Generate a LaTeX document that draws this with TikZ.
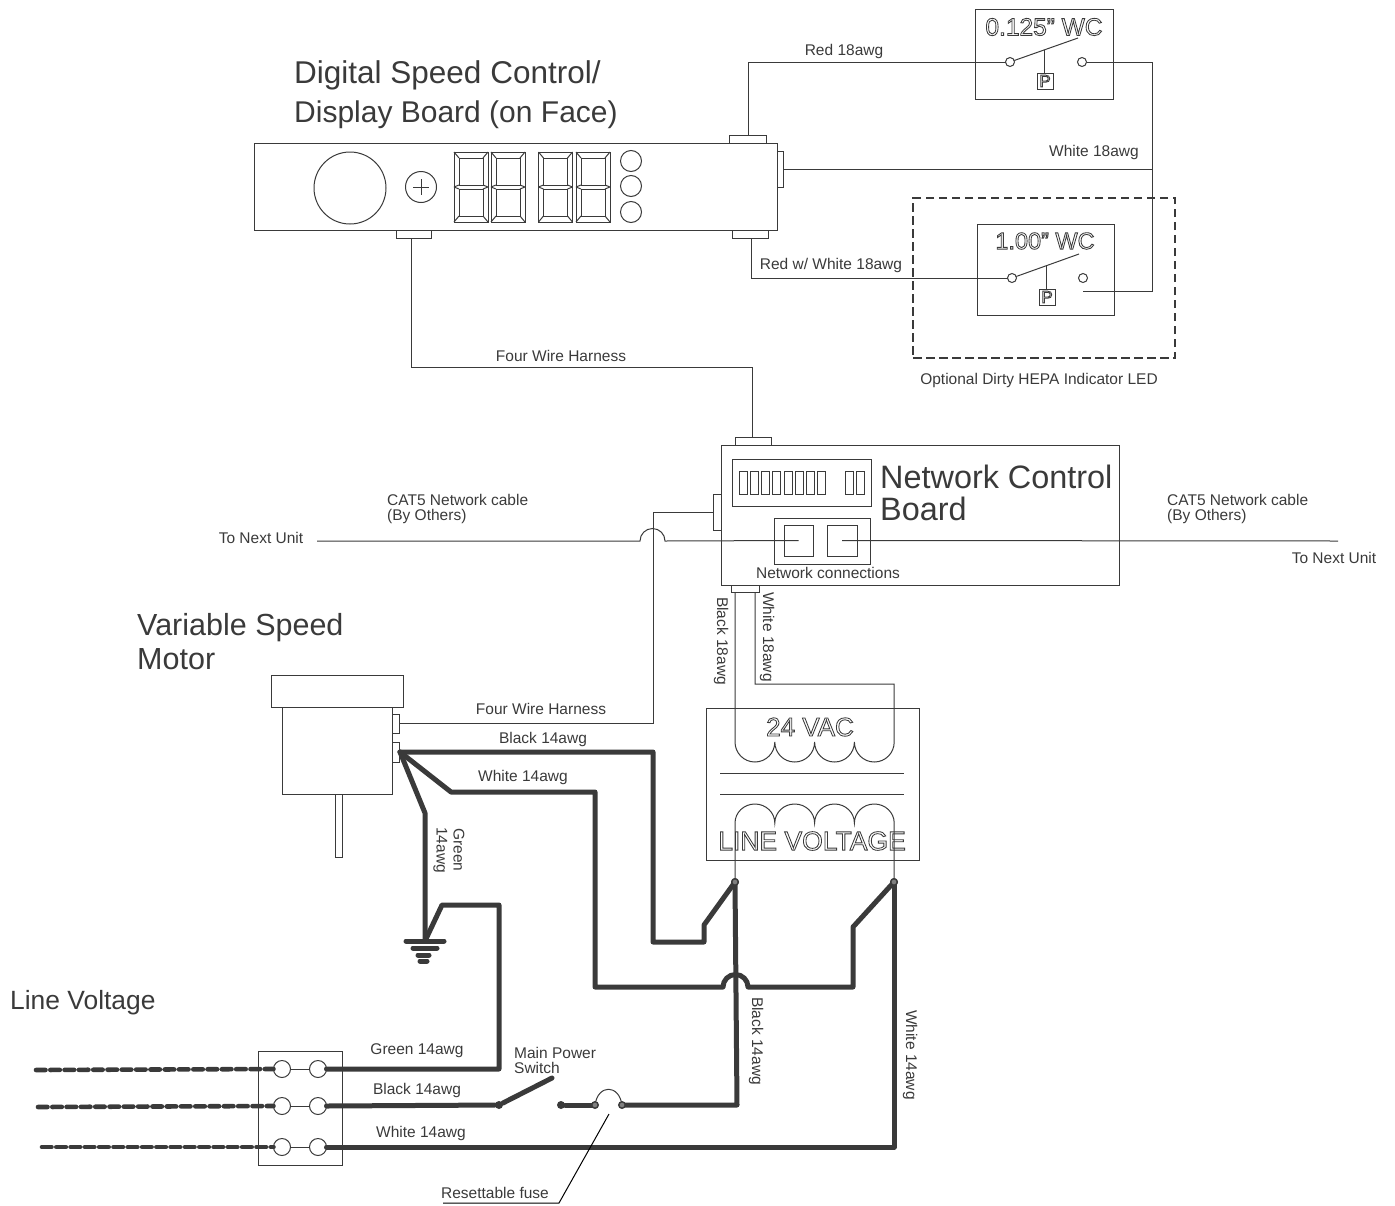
\documentclass[tikz,border=0pt]{standalone}
\usepackage{fontspec}
\setmainfont{Liberation Sans}
\usepackage{tikz}
\usetikzlibrary{ shapes.geometric, % For the knob
                 positioning,
               }
\definecolor{ink}{RGB}{58,58,58}
\newcommand{\outlined}[1]{\special{pdf:code q 0.23 G 0.85 w 1 Tr}#1\special{pdf:code Q}}
\tikzstyle{wire} = [draw=ink, line width=1pt]
\tikzstyle{powerwire} = [draw=ink, line width=5pt, line join=round, line cap=round]
\tikzstyle{feedwire} = [powerwire, line width=4.6pt, dash pattern=on 9.5pt off 4.8pt]
\tikzstyle{box} = [rectangle, draw=ink, line width=1pt, inner sep=0pt, outer sep=0pt]
\tikzstyle{port} = [circle, draw=ink, line width=1pt, inner sep=0pt, outer sep=0pt, fill=white]
\tikzstyle{joint} = [circle, draw=ink, line width=1.4pt, inner sep=0pt, minimum size=6.5pt, fill=gray]
\tikzstyle{pivot} = [circle, fill=ink, inner sep=0pt, minimum size=8pt]
\tikzstyle{lbl} = [text=ink, inner sep=0pt, yshift=-1pt, font=\fontsize{15.5}{15}\selectfont, align=left]
\tikzstyle{title} = [text=ink, inner sep=0pt, anchor=west, font=\fontsize{31}{32}\selectfont]
\tikzstyle{hollow} = [text=ink, inner sep=0pt]

\begin{document}
\begin{tikzpicture}[x=1pt, y=-1pt]
  \useasboundingbox (0,0) rectangle (1395,1205);

  \node (titleDisp) [title, font=\fontsize{31.5}{32}\selectfont] at (294,75) {Digital Speed Control/};
  \node (titleDispB) [title, font=\fontsize{30}{32}\selectfont] at (294,115) {Display Board (on Face)};
  \node (titleNet) [title, font=\fontsize{32.4}{32}\selectfont] at (880,477) {Network Control};
  \node (titleNetB) [title, font=\fontsize{32.4}{32}\selectfont] at (880,509) {Board};
  \node (titleMotor) [title, font=\fontsize{30.5}{32}\selectfont] at (137,628) {Variable Speed};
  \node (titleMotorB) [title, font=\fontsize{30.5}{32}\selectfont] at (137,659) {Motor};
  \node (titleLine) [title, font=\fontsize{26.4}{27}\selectfont] at (10,1003) {Line Voltage};

  \node (board) [box, minimum width=523pt, minimum height=87pt] at (516,186.5) {};
  \node (dispTop) [box, minimum width=36.5pt, minimum height=7.5pt] at (748.2,139.5) {};
  \node (dispRight) [box, minimum width=6.5pt, minimum height=36pt] at (780.7,169) {};
  \node (dispBotL) [box, minimum width=35.5pt, minimum height=8pt] at (414,234) {};
  \node (dispBotR) [box, minimum width=36pt, minimum height=8pt] at (750,234) {};
  \node (knob) [port, minimum size=72pt] at (350,188) {};
  \node (plus) [port, minimum size=31pt] at (421,187) {};
  \draw[wire] (plus.center) +(-8,0) -- +(8,0) +(0,-8) -- +(0,8);
  \node (ledA) [port, minimum size=21pt] at (631,161) {};
  \node (ledB) [port, minimum size=21pt] at (631,186) {};
  \node (ledC) [port, minimum size=21pt] at (631,212) {};

  \foreach \dx in {454,491,538.5,576} {
    \draw[wire] (\dx,152) rectangle +(34,70);
    \draw[wire] ({\dx+5},158) rectangle ({\dx+29},185);
    \draw[wire] ({\dx+5},189) rectangle ({\dx+29},216);
    \draw[wire] (\dx,152) -- ({\dx+5},158) (\dx,222) -- ({\dx+5},216);
    \draw[wire] ({\dx+34},152) -- ({\dx+29},158) ({\dx+34},222) -- ({\dx+29},216);
    \draw[wire] (\dx,187) -- ({\dx+5},185) (\dx,187) -- ({\dx+5},189);
    \draw[wire] ({\dx+34},187) -- ({\dx+29},185) ({\dx+34},187) -- ({\dx+29},189);
  }

  \node (swLow) [box, minimum width=138pt, minimum height=90pt] at (1044,54) {};
  \node (swLowTxt) [hollow, font=\fontsize{24.5}{25}\selectfont] at (1044,27) {\outlined{0.125" WC}};
  \node (swLowA) [port, minimum size=9pt] at (1010,62) {};
  \node (swLowB) [port, minimum size=9pt] at (1082,62) {};
  \node (swLowP) [box, minimum size=16pt] at (1045,81) {\fontsize{17}{17}\selectfont\outlined{P}};
  \coordinate (swLowTip) at (1078,38);
  \coordinate (swLowMid) at (1044,50);
  \draw[wire] (swLowA) -- (swLowTip);
  \draw[wire] (swLowMid) -- (swLowP.north -| swLowMid);

  \node (dirty) [box, dash pattern=on 8.5pt off 4.5pt, line width=2.4pt, minimum width=262pt, minimum height=160pt] at (1044,278) {};
  \node (swHigh) [box, minimum width=137pt, minimum height=91pt] at (1045.5,269.5) {};
  \node (swHighTxt) [hollow, font=\fontsize{23.5}{24}\selectfont] at (1045,241) {\outlined{1.00" WC}};
  \node (swHighA) [port, minimum size=9pt] at (1012,278) {};
  \node (swHighB) [port, minimum size=9pt] at (1083,278) {};
  \node (swHighP) [box, minimum size=16pt] at (1047,297) {\fontsize{17}{17}\selectfont\outlined{P}};
  \coordinate (swHighTip) at (1079,254);
  \coordinate (swHighMid) at (1046,266);
  \coordinate (swHighEnd) at (1083,291);
  \coordinate (commonCnr) at (1152,62);
  \draw[wire] (swHighA) -- (swHighTip);
  \draw[wire] (swHighMid) -- (swHighP.north -| swHighMid);

  \draw[wire] (dispTop.north) |- (swLowA.west);
  \draw[wire] (swLowB.east) -- (commonCnr) |- (swHighEnd);
  \draw[wire] (dispRight.east) -- (dispRight.east -| commonCnr);
  \coordinate (dispBotRpin) at (751.5,238);
  \draw[wire] (dispBotRpin) |- (swHighA.west);

  \node (lblRed) [lbl] at (844,50) {Red 18awg};
  \node (lblWhite) [lbl] at (1094,151) {White 18awg};
  \node (lblRedW) [lbl] at (831,264) {Red w/ White 18awg};
  \node (lblDirty) [lbl] at (1039,379) {Optional Dirty HEPA Indicator LED};

  \node (net) [box, minimum width=398pt, minimum height=140pt] at (920,515) {};
  \node (netTop) [box, minimum width=36pt, minimum height=8pt] at (753,441) {};
  \node (netLeft) [box, minimum width=8pt, minimum height=36pt] at (717,512) {};
  \node (netBot) [box, minimum width=28pt, minimum height=7pt] at (745,588.5) {};
  \node (dip) [box, minimum width=139pt, minimum height=47pt] at (801.5,482.5) {};
  \foreach \dx in {739.3,750.5,761.7,772.9,784.1,795.3,806.5,817.7,845,856.3} {
    \draw[wire] (\dx,471) rectangle +(8,23);
  }
  \node (ether) [box, minimum width=96pt, minimum height=46pt] at (822,541) {};
  \node (jackA) [box, minimum width=29pt, minimum height=31pt] at (798.5,540.5) {};
  \node (jackB) [box, minimum width=30pt, minimum height=31pt] at (842,540.5) {};
  \node (lblEther) [lbl] at (828,572) {Network connections};

  \coordinate (dispBotLpin) at (411,238);
  \coordinate (harnessCnr) at (752.5,367);
  \draw[wire] (dispBotLpin) |- (harnessCnr) -- (netTop.north -| harnessCnr);
  \node (lblHarnessA) [lbl] at (561,355) {Four Wire Harness};

  \coordinate (catLeft) at (317,541);
  \coordinate (hopA) at (640,541);
  \coordinate (catRight) at (1338,541);
  \draw[wire] (catLeft) -- (hopA) arc[start angle=180, end angle=0, radius=12.5pt] -- (jackA.center);
  \draw[wire] (jackB.center) -- (catRight);
  \node (nextL) [lbl] at (261,537) {To Next Unit};
  \node (nextR) [lbl] at (1334,557) {To Next Unit};
  \node (catNoteL) [lbl, anchor=north west] at (387,493) {CAT5 Network cable\\(By Others)};
  \node (catNoteR) [lbl, anchor=north west] at (1167,493) {CAT5 Network cable\\(By Others)};

  \node (motorCap) [box, minimum width=132pt, minimum height=32pt] at (337,691) {};
  \node (motorBody) [box, minimum width=110pt, minimum height=87pt] at (337,750.5) {};
  \node (shaft) [box, minimum width=7pt, minimum height=63pt] at (338.5,825.5) {};
  \node (motorSig) [box, minimum width=7pt, minimum height=19pt] at (395.5,723.5) {};
  \node (motorPow) [box, minimum width=7pt, minimum height=20pt] at (395.5,752) {};
  \coordinate (sigCnr) at (653,723.5);
  \draw[wire] (motorSig.east) -- (sigCnr) |- (netLeft.west);
  \node (lblHarnessB) [lbl] at (541,708) {Four Wire Harness};

  \node (xfmr) [box, minimum width=213pt, minimum height=152pt] at (812.5,784) {};
  \node (xfmrTop) [hollow, font=\fontsize{26}{27}\selectfont] at (810,727) {\outlined{24 VAC}};
  \node (xfmrBot) [hollow, font=\fontsize{26.5}{27}\selectfont] at (812,841) {\outlined{LINE VOLTAGE}};
  \coordinate (coreAl) at (720,773);
  \coordinate (coreAr) at (904,773);
  \coordinate (coreBl) at (720,794);
  \coordinate (coreBr) at (904,794);
  \draw[wire] (coreAl) -- (coreAr);
  \draw[wire] (coreBl) -- (coreBr);
  \coordinate (secA) at (735,592);
  \coordinate (secB) at (755,592);
  \coordinate (secC) at (894,684);
  \coordinate (coilTop) at (735,742);
  \coordinate (coilBot) at (735,823);
  \draw[wire] (secA) -- (coilTop)
    arc[start angle=180, end angle=360, x radius=19.9pt, y radius=20pt]
    arc[start angle=180, end angle=360, x radius=19.9pt, y radius=20pt]
    arc[start angle=180, end angle=360, x radius=19.9pt, y radius=20pt]
    arc[start angle=180, end angle=360, x radius=19.9pt, y radius=20pt]
    -- (secC) -- (secB |- secC) -- (secB);
  \node (lineA) [joint] at (735,882) {};
  \node (lineB) [joint] at (894,882) {};
  \draw[wire] (lineA) -- (coilBot)
    arc[start angle=180, end angle=0, x radius=19.9pt, y radius=19pt]
    arc[start angle=180, end angle=0, x radius=19.9pt, y radius=19pt]
    arc[start angle=180, end angle=0, x radius=19.9pt, y radius=19pt]
    arc[start angle=180, end angle=0, x radius=19.9pt, y radius=19pt]
    -- (lineB);
  \node (lblBlackS) [lbl, rotate=-90] at (721,640) {Black 18awg};
  \node (lblWhiteS) [lbl, rotate=-90] at (767,636) {White 18awg};

  \node (block) [box, minimum width=84pt, minimum height=114pt] at (300,1108) {};
  \coordinate (powIn) at (400,752);
  \coordinate (gnd) at (425,941);

  \coordinate (blkA) at (653,752);
  \coordinate (blkB) at (653,942);
  \coordinate (blkC) at (704,942);
  \coordinate (blkD) at (704,925);
  \draw[powerwire] (powIn) -- (blkA) -- (blkB) -- (blkC) -- (blkD) -- (lineA.center);

  \coordinate (whtA) at (451,792);
  \coordinate (whtB) at (595,792);
  \coordinate (whtC) at (595,987);
  \coordinate (hopB) at (723,987);
  \coordinate (whtD) at (853,987);
  \coordinate (whtE) at (853,927);
  \draw[powerwire] (powIn) -- (whtA) -- (whtB) -- (whtC) -- (hopB)
    arc[start angle=180, end angle=0, radius=12.5pt] -- (whtD) -- (whtE) -- (lineB.center);

  \coordinate (grnA) at (425,813);
  \draw[powerwire] (powIn) -- (grnA) -- (gnd);
  \coordinate (grnB) at (442,905);
  \coordinate (grnC) at (499,905);
  \coordinate (grnD) at (499,1069);

  \node (termAl) [port, minimum size=17pt] at (282,1069) {};
  \node (termAr) [port, minimum size=17pt] at (318,1069) {};
  \node (termBl) [port, minimum size=17pt] at (282,1106) {};
  \node (termBr) [port, minimum size=17pt] at (318,1106) {};
  \node (termCl) [port, minimum size=17pt] at (282,1147) {};
  \node (termCr) [port, minimum size=17pt] at (318,1147) {};
  \draw[wire] (termAl) -- (termAr);
  \draw[wire] (termBl) -- (termBr);
  \draw[wire] (termCl) -- (termCr);

  \draw[powerwire] (gnd) -- (grnB) -- (grnC) -- (grnD) -- (termAr.east);
  \draw[powerwire] (gnd) +(-19,0) -- +(19,0);
  \draw[powerwire] (gnd) +(-12,7) -- +(12,7);
  \draw[powerwire] (gnd) +(-7,14) -- +(4,14);
  \draw[powerwire] (gnd) +(-5,20) -- +(2,20);

  \coordinate (feedA) at (36,1070);
  \coordinate (feedB) at (38,1107);
  \coordinate (feedC) at (42,1147);
  \draw[feedwire] (feedA) -- (termAl.west);
  \draw[feedwire] (feedB) -- (termBl.west);
  \draw[feedwire] (feedC) -- (termCl.west);

  \node (swPivot) [pivot] at (499,1105) {};
  \node (swRest) [pivot] at (561,1105) {};
  \coordinate (fuseAp) at (595,1105);
  \coordinate (fuseBp) at (622,1105);
  \coordinate (swTip) at (552,1078);
  \coordinate (brkCnr) at (737,1105);
  \draw[powerwire] (termBr.east) -- (swPivot) -- (swTip);
  \draw[powerwire] (swRest) -- (fuseAp);
  \draw[powerwire] (fuseBp) -- (brkCnr) -- (lineA.center);
  \draw[wire] (fuseAp) .. controls (598,1084) and (619,1084) .. (fuseBp);
  \node (fuseA) [joint] at (fuseAp) {};
  \node (fuseB) [joint] at (fuseBp) {};
  \coordinate (whtCnr) at (894,1147);
  \draw[powerwire] (termCr.east) -- (whtCnr) -- (lineB.center);
  \node (lineA) [joint] at (735,882) {};
  \node (lineB) [joint] at (894,882) {};

  \coordinate (fuseTip) at (609,1114);
  \coordinate (fuseKnee) at (559,1203);
  \coordinate (fuseEnd) at (443,1203);
  \draw[wire, draw=black] (fuseTip) -- (fuseKnee) -- (fuseEnd);
  \node (lblFuse) [lbl] at (495,1192) {Resettable fuse};

  \node (lblBlkM) [lbl] at (543,738) {Black 14awg};
  \node (lblWhtM) [lbl] at (523,776) {White 14awg};
  \node (lblGrnM) [lbl, rotate=-90, align=center, font=\fontsize{15.5}{17}\selectfont] at (449,849) {Green\\14awg};
  \node (lblGrnL) [lbl] at (417,1050) {Green 14awg};
  \node (lblBlkL) [lbl] at (417,1089) {Black 14awg};
  \node (lblWhtL) [lbl] at (421,1132) {White 14awg};
  \node (lblMain) [lbl, anchor=north west] at (514,1046) {Main Power\\Switch};
  \node (lblBlkR) [lbl, rotate=-90] at (756,1040) {Black 14awg};
  \node (lblWhtR) [lbl, rotate=-90] at (910,1054) {White 14awg};

\end{tikzpicture}
\end{document}
